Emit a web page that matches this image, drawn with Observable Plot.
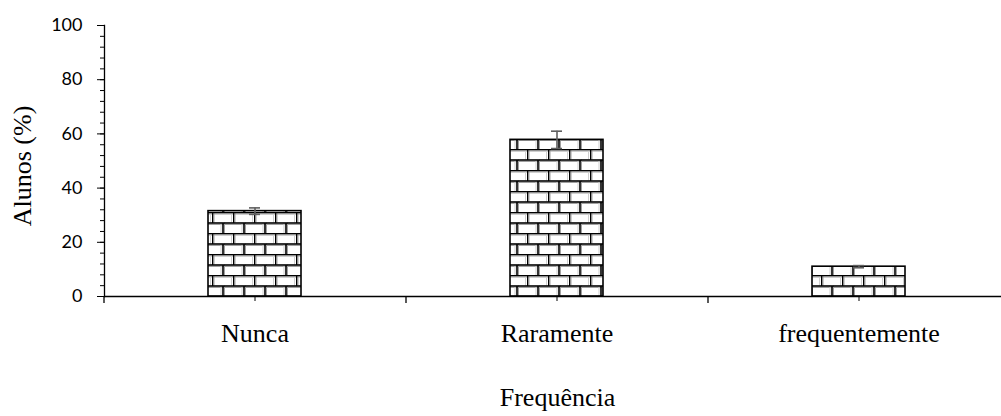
<!DOCTYPE html>
<html>
<head>
<meta charset="utf-8">
<script src="https://cdn.jsdelivr.net/npm/d3@7"></script>
<script src="https://cdn.jsdelivr.net/npm/@observablehq/plot@0.6"></script>
<style>
  html, body { margin: 0; padding: 0; background: #fff; }
  svg { display: block; }
</style>
</head>
<body>
<div id="chart"></div>
<script>
const categories = ["Nunca", "Raramente", "frequentemente"];
const values = [31.5, 57.8, 11.0];
const errors = [1.2, 3.2, 0.4];
const yTicks = [0, 20, 40, 60, 80, 100];
const yMinorTicks = d3.range(0, 101, 4);
const yTitle = "Alunos (%)";
const xTitle = "Frequência";

const data = categories.map((c, i) => ({cat: c, val: values[i], lo: values[i] - errors[i], hi: values[i] + errors[i]}));

const W = 1001, H = 416, mL = 104, mR = -9, mT = 25, mB = 120;
const step = (W - mL - mR) / categories.length;
const pxPerUnit = (H - mT - mB) / 100;

const serif = "'Liberation Serif', 'Times New Roman', serif";
const sans = "Lato, 'Open Sans', sans-serif";

const plot = Plot.plot({
  width: W,
  height: H,
  marginLeft: mL,
  marginRight: mR,
  marginTop: mT,
  marginBottom: mB,
  style: {background: "#fff", overflow: "visible"},
  x: {domain: categories, paddingInner: 0.692, paddingOuter: 0.346, axis: null},
  y: {domain: [0, 100], axis: null},
  marks: [
    Plot.barY(data, {x: "cat", y: "val", fill: "url(#bricks)", stroke: "#000", strokeWidth: 1.6}),
    Plot.ruleX(data, {x: "cat", y1: "lo", y2: "hi", stroke: "#5f5f5f", strokeWidth: 1.6}),
    Plot.tickY(data, {x: "cat", y: "hi", stroke: "#5f5f5f", strokeWidth: 1.6, insetLeft: 41, insetRight: 41}),
    Plot.tickY(data, {x: "cat", y: "lo", stroke: "#5f5f5f", strokeWidth: 1.6, insetLeft: 41, insetRight: 41}),
    Plot.ruleY([0], {stroke: "#000", strokeWidth: 1.3}),
    Plot.frame({anchor: "left", stroke: "#000", strokeWidth: 1.3}),
    Plot.axisY(yMinorTicks, {tickSize: 4, tickFormat: () => "", stroke: "#000", label: null}),
    Plot.axisY(yTicks, {tickSize: 7, tickPadding: 15, fontSize: 18, fontFamily: sans, fill: "#000", stroke: "#000", label: null}),
    Plot.axisX(categories, {tickSize: 5, tickPadding: 22, fontSize: 26, fontFamily: serif, fill: "#000", stroke: "#000", lineAnchor: "top", label: null}),
    Plot.ruleX(categories, {x: d => d, dx: -step / 2, y1: 0, y2: -7 / pxPerUnit, stroke: "#000", strokeWidth: 1.3}),
    Plot.text([yTitle], {frameAnchor: "left", textAnchor: "middle", dx: -82, dy: 5, rotate: -90, fontSize: 26, fontFamily: serif, fill: "#000"}),
    Plot.text([xTitle], {frameAnchor: "bottom", textAnchor: "middle", dy: 109, fontSize: 26, fontFamily: serif, fill: "#000"})
  ]
});

// brick hatch pattern
const ns = "http://www.w3.org/2000/svg";
const defs = document.createElementNS(ns, "defs");
defs.innerHTML = `
<pattern id="bricks" patternUnits="userSpaceOnUse" width="21" height="21" x="2" y="2">
  <rect width="21" height="21" fill="#fff"/>
  <g stroke="#a0a0a0" stroke-width="1">
    <line x1="0" y1="2" x2="21" y2="2"/>
    <line x1="0" y1="12.5" x2="21" y2="12.5"/>
    <line x1="2" y1="0" x2="2" y2="10.5"/>
    <line x1="12.5" y1="10.5" x2="12.5" y2="21"/>
    <line x1="19.5" y1="0" x2="19.5" y2="10.5" stroke="#d0d0d0"/>
    <line x1="9" y1="10.5" x2="9" y2="21" stroke="#d0d0d0"/>
  </g>
  <g stroke="#000" stroke-width="1.6">
    <line x1="0" y1="0.5" x2="21" y2="0.5"/>
    <line x1="0" y1="11" x2="21" y2="11"/>
    <line x1="0.5" y1="0" x2="0.5" y2="11"/>
    <line x1="11" y1="11" x2="11" y2="21"/>
  </g>
</pattern>`;
plot.insertBefore(defs, plot.firstChild);
document.getElementById("chart").appendChild(plot);
</script>
</body>
</html>
